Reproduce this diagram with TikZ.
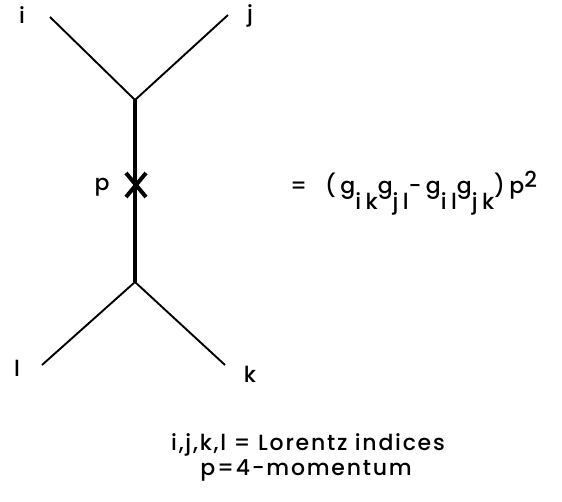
\documentclass[tikz,border=0pt]{standalone}
\usepackage{fontspec}
\setmainfont[LetterSpace=8]{Poppins Medium}
\newfontfamily\eqfont[LetterSpace=20]{Poppins Medium}
\usetikzlibrary{calc}
\newcommand{\lowr}[1]{\raisebox{-0.7em}{#1}}
\newcommand{\highr}[1]{\raisebox{0.3em}{#1}}
\begin{document}
\begin{tikzpicture}[x=1pt,y=-1pt,
  leg/.style={line width=1.9pt},
  prop/.style={line width=4pt},
  lbl/.style={font=\fontsize{22}{24}\selectfont, inner sep=0pt},
  crossmark/.style={line width=4pt}]
\useasboundingbox (0,0) rectangle (562,502);
\coordinate (vt) at (135,100);
\coordinate (vb) at (135,282);
\coordinate (ei) at (50,17);
\coordinate (ej) at (228,15);
\coordinate (el) at (42,365);
\coordinate (ek) at (225,365);
\coordinate (xm) at (136,185);
\draw[leg] (ei) -- (vt) -- (ej);
\draw[leg] (el) -- (vb) -- (ek);
\draw[prop] (vt) -- (vb);
\draw[crossmark] ($(xm)+(-10,-12)$) -- ($(xm)+(10,12)$);
\draw[crossmark] ($(xm)+(-10,12)$) -- ($(xm)+(10,-12)$);
\node[lbl] (li) at (22,15) {i};
\node[lbl] (lj) at (250,16) {j};
\node[lbl] (ll) at (17,368) {l};
\node[lbl] (lk) at (250,374) {k};
\node[lbl] (lp) at (102,187) {p};
\node[lbl, anchor=base west] (eq) at (290,194) {\eqfont =\hspace{18pt}(g\lowr{ik}g\lowr{jl}-g\lowr{il}g\lowr{jk})p\highr{2}};
\node[lbl] (n1) at (308,445) {i,j,k,l = Lorentz indices};
\node[lbl] (n2) at (306,470) {p=4-momentum};
\end{tikzpicture}
\end{document}
